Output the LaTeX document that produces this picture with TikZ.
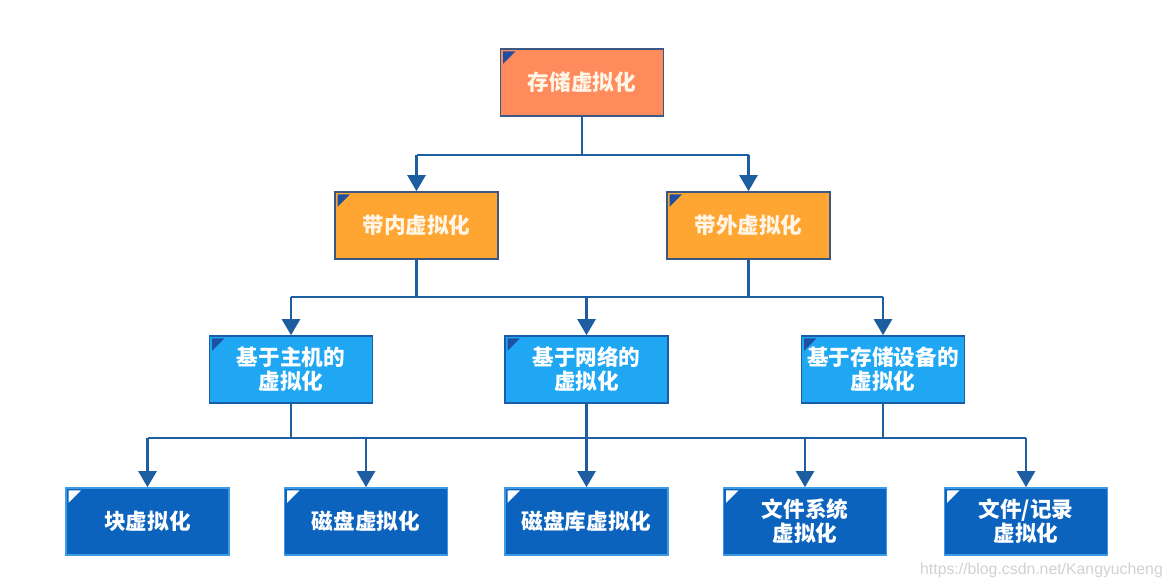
\documentclass[tikz,border=0pt]{standalone}
\usepackage{fontspec}
\usepackage{tikz}
\usetikzlibrary{arrows.meta}
\newfontfamily\cjk{Noto Sans CJK SC}
\newfontfamily\wmfont{Liberation Sans}
\definecolor{rootfill}{HTML}{FF8A5B}
\definecolor{bandfill}{HTML}{FFA531}
\definecolor{midfill}{HTML}{1FA7F3}
\definecolor{lowfill}{HTML}{0B63BE}
\definecolor{darkline}{HTML}{3B5782}
\definecolor{midline}{HTML}{1A5CA8}
\definecolor{lowline}{HTML}{3D9BE3}
\definecolor{linkblue}{HTML}{1C5E9F}
\definecolor{cornerblue}{HTML}{1F4FA3}
\definecolor{textcream}{HTML}{FFF6E8}
\tikzset{
  vbox/.style={rectangle, minimum width=3.26cm, minimum height=1.34cm, inner sep=0pt,
    line width=0.9pt, align=center, text=white,
    font=\cjk\bfseries\fontsize{12.3}{13.6}\selectfont},
  corner/.style={path picture={\fill[#1] ([shift={(0.05cm,-0.05cm)}]path picture bounding box.north west)
    -- ++(0.25cm,0cm) -- ++(-0.25cm,-0.25cm) -- cycle;}},
  rootbox/.style={vbox, fill=rootfill, draw=darkline, text=textcream, corner=cornerblue},
  bandbox/.style={vbox, fill=bandfill, draw=darkline, text=textcream, corner=cornerblue},
  midbox/.style={vbox, fill=midfill, draw=midline, corner=cornerblue},
  lowbox/.style={vbox, fill=lowfill, draw=lowline, corner=white},
  link/.style={draw=linkblue, line width=1.4pt},
  tip/.style={-{Triangle[width=0.36cm,length=0.32cm]}, fill=linkblue}
}
\begin{document}
\begin{tikzpicture}[scale=1]
\useasboundingbox (0,0) rectangle (23.46,11.76);
\node[rootbox] (root) at (11.64,10.11) {存储虚拟化};
\node[bandbox] (inband) at (8.33,7.25) {带内虚拟化};
\node[bandbox] (outband) at (14.97,7.25) {带外虚拟化};
\node[midbox] (host) at (5.82,4.37) {基于主机的\\虚拟化};
\node[midbox] (network) at (11.73,4.37) {基于网络的\\虚拟化};
\node[midbox] (storage) at (17.66,4.37) {基于存储设备的\\虚拟化};
\node[lowbox] (block) at (2.95,1.33) {块虚拟化};
\node[lowbox] (disk) at (7.32,1.33) {磁盘虚拟化};
\node[lowbox] (disklib) at (11.73,1.33) {磁盘库虚拟化};
\node[lowbox] (filesys) at (16.10,1.33) {文件系统\\虚拟化};
\node[lowbox] (filerec) at (20.52,1.33) {文件/记录\\虚拟化};
\coordinate (busA) at (0,8.66);
\coordinate (busB) at (0,5.82);
\coordinate (busC) at (0,3.00);
\draw[link] (root.south) -- (root.south |- busA);
\draw[link] (inband.north |- busA) -- (outband.north |- busA);
\foreach \n in {inband,outband}
  \draw[link,tip] (\n.north |- busA) -- (\n.north);
\foreach \n in {inband,outband}
  \draw[link] (\n.south) -- (\n.south |- busB);
\draw[link] (host.north |- busB) -- (storage.north |- busB);
\foreach \n in {host,network,storage}
  \draw[link,tip] (\n.north |- busB) -- (\n.north);
\foreach \n in {host,network,storage}
  \draw[link] (\n.south) -- (\n.south |- busC);
\draw[link] (block.north |- busC) -- (filerec.north |- busC);
\foreach \n in {block,disk,disklib,filesys,filerec}
  \draw[link,tip] (\n.north |- busC) -- (\n.north);
\node[text=black!18, font=\wmfont\fontsize{9}{11}\selectfont] (credit) at (20.83,0.36) {https://blog.csdn.net/Kangyucheng};
\end{tikzpicture}
\end{document}
